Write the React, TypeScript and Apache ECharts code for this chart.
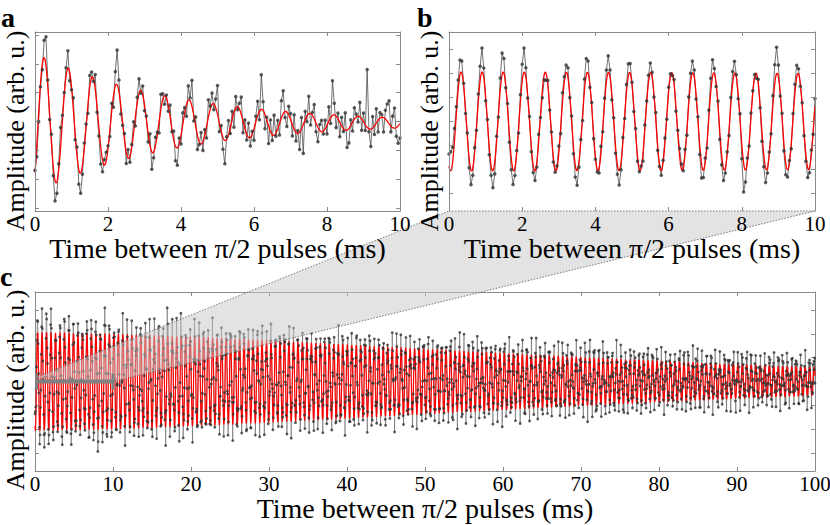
import React, { useEffect, useRef } from "react";
import * as echarts from "echarts";

// ---------------- values ----------------
// fitted model of panel a (damped sinusoid)
const fitA = { amp: 2.42, tau: 3.8, t0: 0.25, period: 0.662, offset: -0.05 };
// fitted model of panels b and c (same measurement, b = first 10 ms of c)
const fitBC = { amp: 2.07, tau: 88, beta: 1.6, t0: 0.33, period: 0.5755 };

const sampleStep = 0.05; // ms between measured points
const xTicksAB = [0, 2, 4, 6, 8, 10];
const xTicksC = [0, 10, 20, 30, 40, 50, 60, 70, 80, 90, 100];
const yTicks = [-3, -2, -1, 0, 1, 2, 3];
const zoomBar = { from: 0, to: 10, level: 0 };

// residuals of the measured points from the fit, in tenths of a unit
const aResid = [
  1, -4, -3, -1, -2, 6, 10, 2, -2, 3, -3, -7, -4, 2, 7, 2, 1, 3, 6, -3,
  -1, 4, -2, 3, -5, -7, -3, 2, 1, -3, 4, 2, -1, 5, -2, -3, -6, -4, 2, 3,
  1, -2, 3, -4, 5, 12, 4, -3, -1, 2, -4, 3, -2, 1, 4, -3, 2, 5, -1, 3,
  -2, 1, -3, 4, -6, -2, 3, 1, -4, 5, 2, -3, 1, -2, 4, -1, 3, -5, -6, 2,
  -3, 4, 2, -4, 5, 1, 9, -2, 3, -5, -1, 4, -3, 2, -4, 6, 1, 4, -2, 3,
  10, -3, 2, -4, -8, 1, 5, -2, 3, -5, 4, -1, 2, 6, -4, 3, -2, 5, -3, 1,
  -4, 2, 5, -3, 12, 3, -5, 1, -6, 4, -2, 7, -1, 3, -4, 6, 8, -2, -5, 3,
  2, -4, 5, -3, 1, -6, 4, -10, 3, -2, 6, -4, 1, 5, -3, -5, 2, 4, -1, 3,
  -3, 5, -2, 12, 4, -4, 2, -5, 3, -1, 6, -6, -5, 2, -3, 4, 1, -2, 5, -4,
  3, -2, 20, -1, -6, 4, -3, 5, -4, 2, 1, -5, 3, 6, 8, -2, 4, 7, -3, -6, -5,
];
const bResid = [
  5, 8, 6, 5, 3, 4, 6, 5, 1, -2, 1, -4, -6, -3, 2, -1, 3, 6, 10, 4,
  -2, 1, -3, -4, -7, -5, 2, -1, 5, 9, 6, -1, 2, -3, -5, -6, -3, 1, -2, 3,
  7, 10, 4, -1, 2, -2, -3, -4, -2, 3, -1, -3, -2, -3, 2, -1, 1, -2, -1, 1,
  3, -2, 4, 2, 3, 4, -1, 2, -3, -5, -6, -2, 1, -2, 5, 7, 5, -1, 2, -2,
  -1, -1, -2, 3, -1, 2, 5, 7, 3, -2, 1, -3, -4, -6, -3, 2, -1, 3, 5, 4,
  1, -2, 2, -2, -1, 1, -3, 2, 1, 3, 4, 2, -1, 3, -2, -1, -2, 1, 2, -1,
  2, 1, -1, 2, -2, 1, 3, 2, -1, 2, -2, 3, 4, 5, 3, -2, 1, -4, -6, -3,
  2, -2, 3, 6, 7, 2, -1, 2, -3, -4, -5, -2, 1, -2, 3, 5, 5, 1, -2, 2,
  -6, -12, -5, 2, -1, 2, 1, 1, -2, 2, -1, -4, -5, -6, -2, 1, -1, 4, 8, 11,
  5, -1, 2, -3, -5, -3, 1, -2, 2, 4, 5, 2, -1, 1, -2, -3, -4, -2, 2, -1, 3,
];
// panel c, 10.05 ms .. 100 ms, 200 points per array
const cResid1 = [
  3, -5, 2, 7, -1, -6, 4, 0, -3, 8, -2, 5, -7, 1, 6, -4, 2, -8, 3, 5,
  -1, 4, -6, 2, 9, -3, -5, 1, 6, -2, -7, 3, 0, 5, -4, 8, -1, -3, 2, -6,
  4, 7, -2, -5, 3, 1, -8, 6, -1, 2, -4, 5, 9, -3, 0, -6, 4, 2, -7, 3,
  -2, 6, 1, -5, 8, -4, 2, -1, -9, 5, 3, -2, 7, -6, 0, 4, -3, 6, -5, 2,
  1, -7, 5, 3, -2, 8, -4, -1, 6, -3, 2, -6, 4, 7, -5, 1, -2, 9, -4, 3,
  -6, 2, 5, -1, -3, 7, -8, 4, 1, -2, 6, -5, 3, 0, -4, 8, -2, 5, -7, 1,
  4, -3, 6, -1, -5, 2, 9, -6, 3, -2, 1, 7, -4, 5, -8, 2, -1, 4, 17, -3,
  6, -5, 2, -2, 8, -4, 1, 5, -6, 3, -1, 7, -3, 4, -7, 2, 6, -2, -5, 3,
  1, -4, 8, -6, 2, 5, -1, -3, 6, -8, 4, 0, -2, 12, -5, 3, 7, -4, 1, -6,
  5, -2, 3, 8, -7, 1, -3, 6, -1, 4, -5, 2, 9, -4, -2, 6, -6, 3, 1, -3,
];
const cResid2 = [
  -4, 6, 2, -7, 3, -1, 5, -5, 8, 1, -3, 4, -6, 2, 7, -2, -8, 5, 0, 3,
  6, -3, -1, 4, -6, 9, 2, -5, 1, -2, 7, -4, 3, -7, 5, 1, -3, 6, -1, -5,
  2, 8, -6, 3, -2, 4, -1, -7, 6, 2, -4, 5, -3, 1, 9, -5, 3, -2, -6, 4,
  -1, 7, -3, 2, 5, -8, 1, 4, -2, 6, -5, 3, -4, 8, 0, -6, 2, 5, -1, -3,
  7, -2, 4, -5, 1, 6, -7, 3, -1, 2, -4, 9, -3, 5, -6, 1, 4, -2, -5, 8,
  -3, 2, 6, -4, -1, 5, -7, 3, 2, -5, 7, -2, 1, -6, 4, 3, -8, 5, -1, 2,
  -5, 6, -2, 4, -3, 8, 1, -6, 3, -4, 2, 7, -1, -5, 5, -2, 3, -7, 6, 1,
  4, -3, -6, 2, 8, -1, 5, -4, 1, -7, 3, 6, -2, -3, 9, -5, 2, -1, 4, -6,
  2, 5, -3, 7, -5, 1, -2, 6, -8, 3, 4, -1, -4, 5, 2, -6, 7, -3, 1, -2,
  -6, 3, 8, -4, 2, -1, 5, -5, 3, -2, 6, 1, -7, 4, -3, 2, 7, -5, 1, 3,
];
const cResid3 = [
  5, -2, -6, 3, 7, -4, 1, -1, 6, -5, 2, 8, -3, -7, 4, 1, -2, 5, -6, 3,
  -1, 4, 6, -8, 2, -3, 5, 1, -5, 7, -2, 3, -4, 6, -1, -6, 2, 9, -3, 1,
  4, -5, 3, -2, 7, -6, 1, 5, -4, 2, -1, 8, -3, -5, 6, 2, -7, 3, -2, 4,
  1, -4, 6, -3, 5, -6, 2, -1, 8, -2, 3, -5, 4, 1, -7, 6, -3, 2, 5, -4,
  -2, 7, -1, 3, -6, 4, -3, 9, -5, 1, 2, -4, 6, -2, -1, 5, -7, 3, 4, -3,
  6, -1, -5, 2, -3, 8, 1, -6, 4, -2, 3, -4, 7, -1, -5, 2, 6, -3, 1, -8,
  3, 5, -2, 4, -6, 1, 7, -3, -1, 5, -4, 2, -2, 6, -5, 3, 8, -6, 1, -2,
  -3, 4, 2, -7, 5, -1, 3, -4, 6, -2, 1, -5, 9, -3, 2, 4, -6, 1, -1, 5,
  -5, 2, 7, -3, 1, -6, 4, 3, -2, 6, -4, -1, 5, -7, 2, 3, -3, 8, -1, -4,
  2, -6, 5, 1, -3, 4, -2, 7, -5, 3, -1, 6, -4, 2, -7, 5, 1, -2, 4, -3,
];
const cResid4 = [
  -3, 6, 1, -5, 4, -2, 7, -6, 2, 3, -4, 5, -1, -7, 8, 2, -3, 4, -5, 1,
  6, -2, -4, 3, 7, -6, 1, -1, 5, -3, 2, -8, 4, 6, -2, -5, 3, 1, -4, 7,
  -1, 2, -6, 15, -2, 4, -5, 3, 1, -3, 6, -7, 2, 5, -1, -4, 8, -2, 3, -5,
  4, 1, -6, 2, -3, 7, -1, 5, -4, 3, -2, 6, -8, 1, 4, -3, 2, 9, -5, -1,
  3, -4, 6, -2, 1, -6, 5, 2, -3, 7, -5, 1, -1, 4, -7, 3, 6, -2, -4, 5,
  -2, 8, -3, 1, -5, 4, 2, -6, 3, -1, 5, -4, 7, -2, -3, 6, 1, -5, 2, -1,
  4, -7, 3, 5, -2, -4, 6, 1, -3, 8, -5, 2, -1, 3, -6, 4, -2, 7, -3, 1,
  -5, 2, 6, -1, -4, 3, 9, -6, 2, -2, 5, -3, 1, -7, 4, 6, -1, -4, 3, 2,
  -6, 5, -2, 1, 7, -3, 4, -5, 2, -1, 6, -4, 3, -8, 1, 5, -2, 3, -6, 4,
  1, -3, 7, -2, -5, 6, 2, -4, 3, -1, 8, -6, 2, -3, 5, 1, -4, 6, -2, -5,
];
const cResid5 = [
  4, -2, 6, -5, 1, 3, -6, 2, 7, -3, -7, 5, -1, 3, -4, 8, -2, 1, -6, 4,
  2, -5, 6, -1, -3, 7, -4, 2, 5, -6, 1, -2, 9, -3, 4, -5, 2, -1, 6, -7,
  3, 1, -4, 5, -2, 7, -6, 2, -1, 4, -3, 6, -5, 1, 3, -8, 2, -2, 5, -4,
  6, -1, -3, 4, 2, -6, 8, -2, 1, -5, 3, -4, 7, -1, 2, -3, 5, -6, 4, 1,
  -2, 6, -7, 3, -1, 5, -4, 2, 8, -3, 1, -5, 4, -2, 6, -6, 3, 1, -4, 7,
  -1, -3, 5, 2, -6, 4, -2, 7, -5, 1, 3, -4, 6, -1, -7, 2, 5, -3, 4, -2,
  1, 6, -5, 3, -2, 8, -4, 1, -6, 5, 2, -1, -3, 7, -2, 4, -5, 3, -6, 2,
  5, -3, 1, -4, 6, -1, 3, -7, 2, 4, -2, 9, -5, 1, -3, 6, -4, 2, -1, 5,
  -6, 3, 7, -2, -4, 1, 5, -3, 2, -5, 6, -1, 4, -7, 3, 1, -2, 8, -6, 2,
  3, -4, 1, 6, -3, -5, 2, 7, -2, 4, -6, 1, 3, -1, 5, -4, 2, -7, 6, -2,
];
const cResid6 = [
  -1, 5, -4, 2, 7, -3, 1, -6, 4, 3, -2, 6, -5, 1, -3, 8, -2, 4, -7, 2,
  5, -1, -4, 6, -3, 2, 1, -6, 7, -2, 3, -5, 4, -1, 6, -4, 2, -8, 5, 1,
  -3, 4, 2, -6, 3, 7, -1, -5, 2, 6, -3, 1, -4, 5, -2, 8, -6, 3, -1, 4,
  2, -5, 6, -2, -3, 4, 1, -7, 5, -1, 3, -4, 7, -2, 2, -6, 4, 1, -3, 6,
  -5, 2, 3, -1, 8, -4, -2, 5, -6, 3, 1, -3, 6, -1, 4, -7, 2, 5, -2, -4,
  7, -3, 1, 4, -5, 2, -1, 6, -6, 3, -2, 5, 1, -4, 3, -8, 6, 2, -3, 4,
  -1, -5, 7, 2, -4, 3, 6, -2, 1, -6, 5, -8, 4, -3, 2, 7, -1, -5, 3, 1,
  -2, 6, -4, 2, 5, -7, 1, 3, -3, 4, -1, 8, -5, 2, -2, 6, -4, 1, 3, -6,
  4, -2, 5, -1, -3, 7, -6, 2, 1, -4, 6, -2, 3, -5, 4, 1, -7, 5, -1, 2,
  6, -3, 2, -5, 4, 1, -2, 7, -4, 3, -6, 2, 5, -1, 12, -3, 6, -2, 4, -5,
];
const cResid7 = [
  2, -4, 6, -1, 3, -6, 5, 1, -3, 7, -2, 4, -5, 2, -1, 6, -7, 3, 1, -4,
  5, -2, 8, -3, 1, -5, 4, 2, -6, 3, -1, 7, -4, 2, 5, -3, 1, -6, 4, -2,
  -3, 6, 1, -5, 3, -2, 7, -4, 2, -1, 5, -6, 3, 1, -3, 8, -2, 4, -5, 2,
  6, -1, -4, 3, 2, -7, 5, -2, 1, 4, -3, 6, -5, 2, -1, 7, -4, 3, -6, 1,
  4, -2, 5, -3, -1, 6, -5, 2, 3, -4, 8, -1, 2, -6, 4, 1, -3, 5, -2, 3,
  -5, 7, 1, -4, 2, -2, 6, -3, 4, -6, 1, 5, -1, 3, -7, 2, 4, -2, 6, -4,
  1, -3, 5, 2, -5, 4, -1, 7, -6, 2, 3, -2, 5, -4, 1, 6, -3, -1, 4, -5,
  2, 8, -3, 1, -4, 5, -2, 3, -6, 4, 2, -1, 6, -5, 1, -3, 7, -2, 4, -6,
  3, 1, -5, 6, -2, 4, -3, 2, -1, 7, -4, 5, -6, 1, 3, -2, 6, -4, 2, -1,
  -3, 5, 2, -6, 4, -1, 3, -5, 7, 1, -2, 4, -3, 6, -5, 2, 1, -4, 5, -2,
];
const cResid8 = [
  3, -2, 5, -4, 1, 6, -3, 2, -5, 4, -1, 7, -6, 2, 3, -4, 5, -2, 1, -3,
  6, -5, 2, 4, -1, -3, 7, -2, 3, -6, 1, 5, -4, 2, -2, 6, -3, 4, -5, 1,
  3, -7, 2, 5, -1, -4, 6, -2, 3, -5, 4, 1, -3, 7, -6, 2, -1, 5, -4, 3,
  2, -6, 4, -1, 5, -3, 1, 6, -5, 2, -2, 4, -4, 7, -1, 3, -6, 2, 5, -3,
  1, -4, 6, -2, 3, -5, 7, -1, 2, -6, 4, 3, -3, 16, -2, 5, -4, 1, 6, -5,
  2, -1, 4, -3, 6, -6, 1, 3, -2, 5, -4, 2, 7, -3, 1, -5, 4, -1, 6, -2,
  -4, 3, 5, -6, 2, 1, -3, 7, -2, 4, -5, 1, 3, -1, 6, -4, 2, -7, 5, 1,
  -2, 4, -3, 6, -5, 2, 1, -4, 7, -1, 3, -6, 4, 2, -2, 5, -3, 1, -5, 6,
  3, -2, 5, -4, 1, -6, 4, 2, -3, 7, -1, 5, -5, 2, 3, -4, 6, -2, 1, -3,
  5, -1, 2, -6, 4, 3, -2, 6, -4, 1, -5, 7, -3, 2, 4, -1, -6, 5, 2, -3,
];
const cResid9 = [
  -2, 5, 1, -4, 6, -3, 2, -5, 4, 1, -1, 7, -6, 3, -2, 5, -4, 2, 6, -3,
  1, -5, 3, 4, -2, 6, -1, -4, 5, 2, -6, 3, 1, -3, 7, -2, 4, -5, 2, -1,
  6, -4, 3, 1, -5, 5, -2, 4, -6, 2, 3, -1, 7, -3, 1, -4, 5, 2, -6, 4,
  -1, 3, -5, 6, -2, 1, 4, -3, 2, -6, 5, -10, 3, -2, 6, -4, 1, 5, -3, 2,
  -5, 4, 1, -2, 7, -4, 3, -1, 5, -6, 2, 4, -3, 1, 6, -2, -5, 3, 2, -4,
  6, -1, 3, -5, 4, 2, -3, 7, -2, 1, -6, 5, -1, 3, -4, 6, 2, -5, 4, -2,
  1, 5, -3, 2, -6, 4, -1, 6, -4, 3, 1, -2, 5, -5, 2, 7, -3, 1, -4, 3,
  -2, 6, -5, 1, 4, -3, 2, -1, 7, -6, 3, 2, -4, 5, -2, 1, 6, -3, -5, 4,
  2, -1, 5, -4, 3, -6, 1, 6, -2, 4, -5, 2, 3, -3, 7, -1, -4, 5, 2, -6,
  4, -2, 1, 6, -5, 3, -1, 4, -3, 2, -6, 5, 1, -2, 7, -4, 3, -1, 5, -3,
];

// ---------------- models & data assembly ----------------
function modelA(t: number) {
  return (
    fitA.amp * Math.exp(-t / fitA.tau) * Math.cos((2 * Math.PI * (t - fitA.t0)) / fitA.period) + fitA.offset
  );
}
function modelBC(t: number) {
  return (
    fitBC.amp *
    Math.exp(-Math.pow(t / fitBC.tau, fitBC.beta)) *
    Math.cos((2 * Math.PI * (t - fitBC.t0)) / fitBC.period)
  );
}
function measured(resid: number[], model: (t: number) => number, offsetIndex = 0) {
  return resid.map((r, i) => {
    const t = +((i + offsetIndex) * sampleStep).toFixed(3);
    return [t, model(t) + r / 10];
  });
}
function curve(model: (t: number) => number, tEnd: number, dt: number) {
  const out: number[][] = [];
  const n = Math.round(tEnd / dt);
  for (let i = 0; i <= n; i++) {
    const t = i * dt;
    out.push([t, model(t)]);
  }
  return out;
}

const aPoints = measured(aResid, modelA);
const bPoints = measured(bResid, modelBC);
const cRest = [cResid1, cResid2, cResid3, cResid4, cResid5, cResid6, cResid7, cResid8, cResid9].flat();
const cPoints = measured(bResid, modelBC).concat(measured(cRest, modelBC, bResid.length));
const aFit = curve(modelA, 10, 0.01);
const bFit = curve(modelBC, 10, 0.01);
const cFit = curve(modelBC, 100, 0.02);

const FONT = "Liberation Serif";
const AXIS_COLOR = "#8a8a8a";
const X_TITLE = "Time between \u03c0/2 pulses (ms)";
const Y_TITLE = "Amplitude (arb. u.)";

function xAxes(grid: number, max: number, interval: number, nameGap: number, bottomLine: boolean, z: number) {
  const common = {
    type: "value",
    gridIndex: grid,
    min: 0,
    max,
    interval,
    z,
    splitLine: { show: false },
    axisTick: { inside: true, length: 4, lineStyle: { color: AXIS_COLOR, width: 1 } },
  };
  return [
    {
      ...common,
      position: "bottom",
      axisLine: { show: bottomLine, onZero: false, lineStyle: { color: AXIS_COLOR, width: 1 } },
      axisLabel: { show: true, margin: 2, color: "#000", fontFamily: FONT, fontSize: 21 },
      name: X_TITLE,
      nameLocation: "middle",
      nameGap,
      nameTextStyle: { color: "#000", fontFamily: FONT, fontSize: 28 },
    },
    {
      ...common,
      position: "top",
      axisLine: { show: true, onZero: false, lineStyle: { color: AXIS_COLOR, width: 1 } },
      axisLabel: { show: false },
    },
  ];
}
function yAxes(grid: number, lim: number, z: number) {
  const common = {
    type: "value",
    gridIndex: grid,
    min: -lim,
    max: lim,
    z,
    splitLine: { show: false },
    axisLabel: { show: false },
    axisLine: { show: true, onZero: false, lineStyle: { color: AXIS_COLOR, width: 1 } },
    axisTick: { inside: true, length: 4, customValues: yTicks, lineStyle: { color: AXIS_COLOR, width: 1 } },
  };
  return [
    { ...common, position: "left" },
    { ...common, position: "right" },
  ];
}
function panelSeries(ax: number, pts: number[][], fit: number[][], dot: number, dataWidth: number, fitWidth: number) {
  return [
    {
      type: "line",
      xAxisIndex: ax,
      yAxisIndex: ax,
      data: pts,
      symbol: "none",
      lineStyle: { color: "#4d4d4d", width: dataWidth },
      z: 2,
      silent: true,
    },
    {
      type: "line",
      xAxisIndex: ax,
      yAxisIndex: ax,
      data: fit,
      symbol: "none",
      lineStyle: { color: "#ff0000", width: fitWidth },
      z: 3,
      silent: true,
    },
    {
      type: "scatter",
      xAxisIndex: ax,
      yAxisIndex: ax,
      data: pts,
      symbol: "circle",
      symbolSize: dot,
      itemStyle: { color: "#333333" },
      z: 4,
      silent: true,
    },
  ];
}

export default function App() {
  const ref = useRef<HTMLDivElement>(null);
  useEffect(() => {
    if (!ref.current) return;
    const chart = echarts.init(ref.current, undefined, { renderer: "svg" });
    const grids = [
      { left: 35, top: 32, width: 365, height: 179 },
      { left: 449, top: 32, width: 366, height: 179 },
      { left: 35, top: 292, width: 780, height: 179 },
    ].map((g) => ({ ...g, containLabel: false, outerBoundsMode: "none" }));

    chart.setOption({
      animation: false,
      backgroundColor: "#ffffff",
      grid: grids,
      xAxis: [
        ...xAxes(0, xTicksAB[xTicksAB.length - 1], xTicksAB[1] - xTicksAB[0], 22, true, 15),
        ...xAxes(1, xTicksAB[xTicksAB.length - 1], xTicksAB[1] - xTicksAB[0], 22, false, 15),
        ...xAxes(2, xTicksC[xTicksC.length - 1], xTicksC[1] - xTicksC[0], 18, true, 0),
      ],
      yAxis: [...yAxes(0, 3.1, 15), ...yAxes(1, 3.73, 15), ...yAxes(2, 3.76, 0)],
      series: [
        ...panelSeries(0, aPoints, aFit, 3.5, 0.8, 1.3),
        ...panelSeries(2, bPoints, bFit, 3.5, 0.8, 1.3),
        ...panelSeries(4, cPoints, cFit, 2.8, 0.5, 1.2),
      ],
    });

    const px = (axis: number, v: number[]) => chart.convertToPixel({ xAxisIndex: axis, yAxisIndex: axis }, v) as number[];
    const cL = px(4, [zoomBar.from, zoomBar.level + 0.15]);
    const cR = px(4, [zoomBar.to, zoomBar.level]);
    const barL = px(4, [zoomBar.from, zoomBar.level]);
    const bL = px(2, [0, -3.73]);
    const bR = px(2, [10, -3.73]);
    const dotted = { stroke: "#7a7a7a", lineWidth: 1, lineDash: [1.5, 1.5], fill: null };
    const txt = (text: string, x: number, y: number, size: number, rot: number, weight = "normal") => ({
      type: "text",
      x,
      y,
      rotation: rot,
      z: 30,
      style: {
        text,
        fontFamily: FONT,
        fontSize: size,
        fontWeight: weight,
        fill: "#000",
        align: rot ? "center" : "left",
        verticalAlign: "middle",
      },
    });
    chart.setOption({
      graphic: [
        { type: "polygon", z: 10, silent: true, shape: { points: [cL, bL, bR, cR] }, style: { fill: "rgba(200,200,200,0.5)" } },
        { type: "polyline", z: 11, silent: true, shape: { points: [cL, bL] }, style: dotted },
        { type: "polyline", z: 11, silent: true, shape: { points: [bL, bR] }, style: dotted },
        { type: "polyline", z: 11, silent: true, shape: { points: [bR, cR] }, style: dotted },
        { type: "line", z: 12, silent: true, shape: { x1: barL[0] + 1, y1: barL[1], x2: cR[0], y2: cR[1] }, style: { stroke: "#808080", lineWidth: 4 } },
        { type: "line", z: 12, silent: true, shape: { x1: barL[0] + 1.5, y1: barL[1] - 8, x2: barL[0] + 1.5, y2: barL[1] + 8 }, style: { stroke: "#808080", lineWidth: 3 } },
        { type: "line", z: 12, silent: true, shape: { x1: cR[0], y1: cR[1] - 8, x2: cR[0], y2: cR[1] + 8 }, style: { stroke: "#808080", lineWidth: 3 } },
        txt(Y_TITLE, 15, 131, 26, Math.PI / 2),
        txt(Y_TITLE, 429, 131, 26, Math.PI / 2),
        txt(Y_TITLE, 15, 390, 26, Math.PI / 2),
        txt("a", 1, 17, 28, 0, "bold"),
        txt("b", 417, 17, 28, 0, "bold"),
        txt("c", 0, 276, 28, 0, "bold"),
      ],
    });
    return () => chart.dispose();
  }, []);
  return <div ref={ref} style={{ position: "fixed", left: 0, top: 0, width: 830, height: 525 }} />;
}
